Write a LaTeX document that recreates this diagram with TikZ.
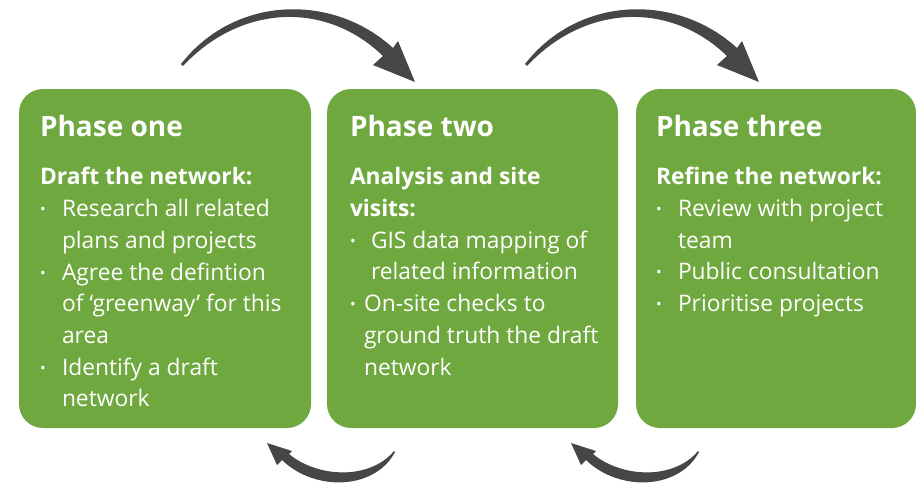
\documentclass[tikz,border=0pt]{standalone}
\usepackage{fontspec}
\setmainfont{Open Sans}
\usetikzlibrary{positioning}

\definecolor{phasegreen}{RGB}{112,168,64}
\definecolor{arrowgrey}{RGB}{70,70,70}

\newcommand{\bdot}{\raisebox{2pt}{\fontsize{15}{15}\selectfont •}}
\newcommand{\bitem}[2][22pt]{\makebox[#1][l]{\bdot}#2}
\newcommand{\bcont}[2][22pt]{\hspace*{#1}#2}

\tikzset{
    phase/.style={rounded corners=24pt,fill=phasegreen,minimum height=339pt,inner sep=0pt},
    phasetitle/.style={anchor=base west,inner sep=0pt,text=white,font=\fontsize{28}{34}\selectfont\bfseries},
    % base of a multi-line node is its last line
    phasetext/.style={anchor=base west,inner sep=0pt,text=white,align=left,font=\fontsize{22.8}{31.7}\selectfont},
    pics/overarrow/.style={code={
        \fill[arrowgrey] (0,0) .. controls (54,-69) and (152,-71) .. (212,-16) -- (217,-23) -- (234,18)
            -- (192,1) -- (202,-8) .. controls (144,-64) and (59,-59) .. (2,2) -- cycle;
    }},
    pics/underarrow/.style={code={
        \fill[arrowgrey] (0,0) .. controls (-20,38) and (-80,40) .. (-113,8) -- (-118,13) -- (-128,-9)
            -- (-103,-1) -- (-106,2) .. controls (-77,26) and (-25,28) .. (-1,-1) -- cycle;
    }}
}

\begin{document}
\begin{tikzpicture}[x=1pt,y=-1pt]
    \useasboundingbox (0,0) rectangle (916,483);

    % the three phases
    \node [phase,minimum width=292pt] (one) at (165,258.5) {};
    \node [phase,minimum width=291pt] (two) at (472.5,258.5) {};
    \node [phase,minimum width=280pt] (three) at (776,258.5) {};

    \node [phasetitle] (onetitle) at ([shift={(21pt,-48pt)}]one.north west) {Phase one};
    \node [phasetext] (onetext) at ([shift={(21pt,-318pt)}]one.north west) {%
        \textbf{Draft the network:}\\
        \bitem{Research all related}\\
        \bcont{plans and projects}\\
        \bitem{Agree the defintion}\\
        \bcont{of ‘greenway’ for this}\\
        \bcont{area}\\
        \bitem{Identify a draft}\\
        \bcont{network}};

    \node [phasetitle] (twotitle) at ([shift={(23pt,-48pt)}]two.north west) {Phase two};
    \node [phasetext] (twotext) at ([shift={(23pt,-286.2pt)}]two.north west) {%
        \textbf{Analysis and site}\\
        \textbf{visits:}\\
        \bitem[21pt]{GIS data mapping of}\\
        \bcont[21pt]{related information}\\
        \bitem[14pt]{On-site checks to}\\
        \bcont[14pt]{ground truth the draft}\\
        \bcont[14pt]{network}};

    \node [phasetitle] (threetitle) at ([shift={(20pt,-48pt)}]three.north west) {Phase three};
    \node [phasetext] (threetext) at ([shift={(20pt,-222.8pt)}]three.north west) {%
        \textbf{Refine the network:}\\
        \bitem{Review with project}\\
        \bcont{team}\\
        \bitem{Public consultation}\\
        \bitem{Prioritise projects}};

    % cycle arrows
    \pic (fwdone) at (181,64) {overarrow};
    \pic (fwdtwo) at (525,64) {overarrow};
    \pic (backone) at (395,452) {underarrow};
    \pic (backtwo) at (699,452) {underarrow};
\end{tikzpicture}
\end{document}
